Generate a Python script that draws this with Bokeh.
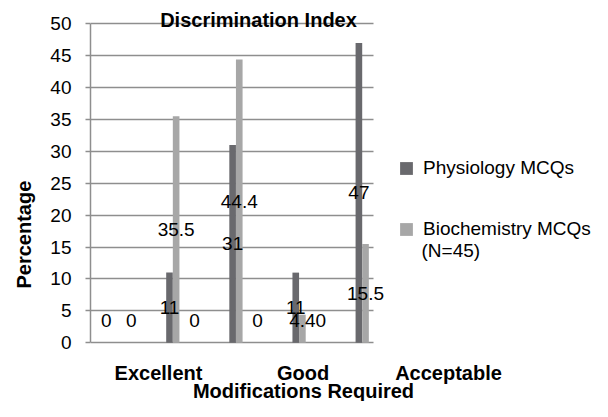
from bokeh.plotting import figure
from bokeh.models import (Range1d, ColumnDataSource, LabelSet, Label, Legend,
                          LegendItem, FixedTicker, BoxAnnotation, Title)
from bokeh.core.properties import value
from bokeh.transform import dodge
from bokeh.embed import file_html
from bokeh.resources import INLINE

# ---- data ----
clusters = [0, 1, 2, 3, 4]
physiology = [0, 11, 31, 11, 47]
biochemistry = [float("nan"), 35.5, 44.4, 4.4, 15.5]
unlabelled_series = [0, 0, 0, 0, 0]
category_labels = ["Excellent", "Good", "Acceptable"]
y_ticks = [0, 5, 10, 15, 20, 25, 30, 35, 40, 45, 50]

title_text = "Discrimination Index"
x_title = "Modifications Required"
y_title = "Percentage"
series_names = ["Physiology MCQs", "Biochemistry MCQs"]
series_note = "(N=45)"

# ---- layout / style ----
FONT = "Liberation Sans"
DARK = "#69696d"
LIGHT = "#a7a7a7"
GRID = "#8e8e8e"
BAR_W = 0.105
PLOT_X_END = 4.179            # right edge of the gridded plot area
X_RANGE = (-0.304, 7.648)     # whole canvas right of the y axis
Y_RANGE = (-9.2, 53.65)
category_label_x = [0.773, 3.062, 5.367]
category_label_y = -4.66
x_title_pos = (3.07, -7.63)
title_pos = (2.357, 50.52)
note_pos = (4.939, 14.5)
label_floor = 3.5

p = figure(width=592, height=401, output_backend="svg", toolbar_location=None,
           x_range=Range1d(*X_RANGE), y_range=Range1d(*Y_RANGE),
           min_border_left=90, min_border_right=0, min_border_top=0,
           min_border_bottom=0)
p.outline_line_color = None
p.xaxis.visible = False
p.xgrid.visible = False
p.ygrid.grid_line_color = GRID
p.ygrid.grid_line_width = 1.5
p.ygrid.ticker = FixedTicker(ticks=y_ticks)

ax = p.yaxis[0]
ax.ticker = FixedTicker(ticks=y_ticks)
ax.bounds = (y_ticks[0], y_ticks[-1])
ax.axis_line_color = GRID
ax.axis_line_width = 1.5
ax.major_tick_line_color = GRID
ax.major_tick_line_width = 1.5
ax.major_tick_out = 5
ax.major_tick_in = 0
ax.minor_tick_line_color = None
ax.major_label_text_font = FONT
ax.major_label_text_font_size = "19px"
ax.major_label_text_color = "black"
ax.major_label_standoff = 14

p.add_layout(Title(text=y_title, align="left", offset=113,
                   vertical_align="top", standoff=22, text_font=FONT,
                   text_font_size="20px", text_font_style="bold",
                   text_color="black"), "left")

src = ColumnDataSource(dict(g=clusters, phys=physiology, bio=biochemistry))
r1 = p.vbar(x=dodge("g", -BAR_W / 2, range=p.x_range), top="phys", width=BAR_W,
            source=src, fill_color=DARK, line_color=None)
r2 = p.vbar(x=dodge("g", BAR_W / 2, range=p.x_range), top="bio", width=BAR_W,
            source=src, fill_color=LIGHT, line_color=None)

# white area right of the plot area (legend area)
p.add_layout(BoxAnnotation(left=PLOT_X_END, fill_color="white", fill_alpha=1,
                           line_color=None))


def fmt(v):
    return f"{v:g}"


lx, ly, lt = [], [], []
for offset, vals in ((-BAR_W / 2, physiology), (BAR_W / 2, biochemistry),
                     (0.342, unlabelled_series)):
    for g, v in zip(clusters, vals):
        if v != v:  # nan -> no label
            continue
        x = g + offset
        if x > PLOT_X_END:
            continue
        lx.append(x)
        ly.append(max(v / 2, label_floor))
        lt.append(fmt(v))

lab_src = ColumnDataSource(dict(x=lx, y=ly, t=lt))
p.add_layout(LabelSet(x="x", y="y", text="t", source=lab_src,
                      text_align="center", text_baseline="middle",
                      text_font=value(FONT), text_font_size="19px",
                      text_color="black"))

bold = dict(text_align="center", text_baseline="middle", text_font=FONT,
            text_font_size="20px", text_font_style="bold", text_color="black")
for name, xpos in zip(category_labels, category_label_x):
    p.add_layout(Label(x=xpos, y=category_label_y, text=name, **bold))
p.add_layout(Label(x=x_title_pos[0], y=x_title_pos[1], text=x_title, **bold))
p.add_layout(Label(x=title_pos[0], y=title_pos[1], text=title_text, **bold))

legend = Legend(items=[LegendItem(label=series_names[0], renderers=[r1]),
                       LegendItem(label=series_names[1], renderers=[r2])],
                location=(308, 161), padding=0, margin=0, spacing=39,
                glyph_width=16, glyph_height=16, label_standoff=9,
                label_text_font=FONT, label_text_font_size="19px",
                label_text_color="black", border_line_color=None,
                background_fill_alpha=0)
p.add_layout(legend, "center")
p.add_layout(Label(x=note_pos[0], y=note_pos[1], text=series_note,
                   text_align="left", text_baseline="middle", text_font=FONT,
                   text_font_size="19px", text_color="black"))

open("out.html", "w").write(file_html(p, INLINE))
